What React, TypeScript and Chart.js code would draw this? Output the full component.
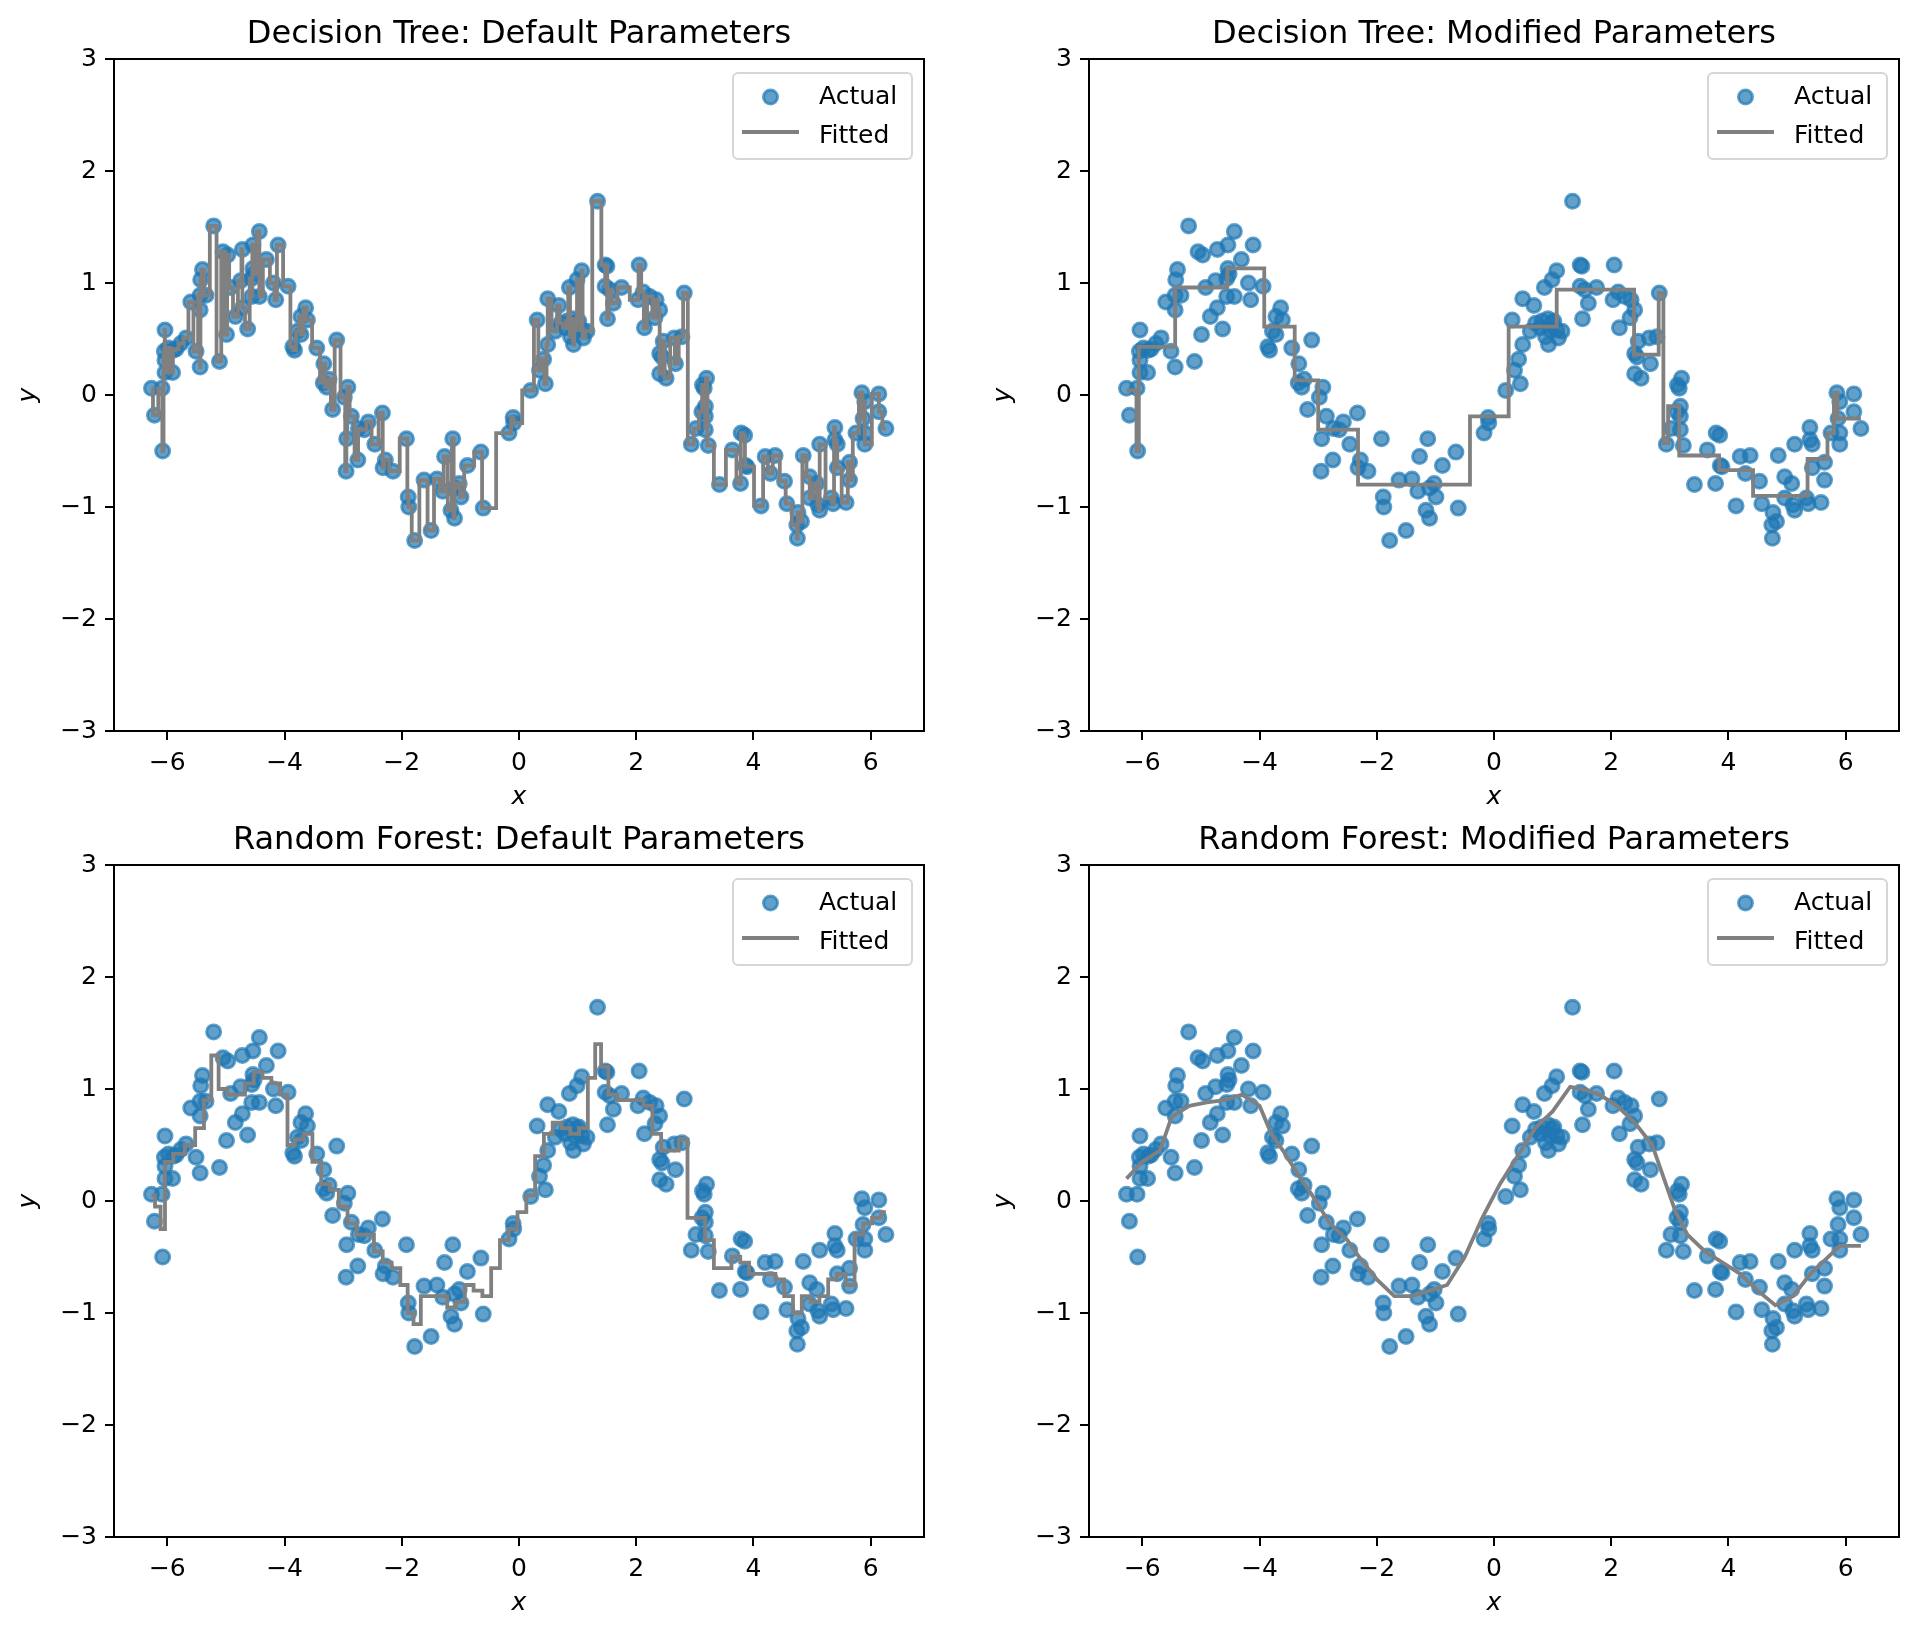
import React, { useEffect, useRef } from 'react';
import { Chart, registerables } from 'chart.js';

Chart.register(...registerables);

// ---------------- data ----------------
const titles = [
  'Decision Tree: Default Parameters',
  'Decision Tree: Modified Parameters',
  'Random Forest: Default Parameters',
  'Random Forest: Modified Parameters',
];

const xTicks = [-6, -4, -2, 0, 2, 4, 6];
const yTicks = [-3, -2, -1, 0, 1, 2, 3];

const actualX = [
  -6.27, -6.22, -6.09, -6.08, -6.05, -6.04, -6.04, -6.04, -5.98, -5.91, -5.9, -5.85, -5.77, -5.68, -5.6, -5.51,
  -5.44, -5.44, -5.44, -5.43, -5.4, -5.34, -5.21, -5.11, -5.05, -4.99, -4.97, -4.92, -4.84, -4.75, -4.72, -4.72,
  -4.63, -4.56, -4.56, -4.54, -4.54, -4.52, -4.43, -4.43, -4.31, -4.19, -4.15, -4.11, -3.94, -3.86, -3.83, -3.78,
  -3.72, -3.72, -3.64, -3.61, -3.45, -3.34, -3.33, -3.28, -3.24, -3.18, -3.11, -2.98, -2.95, -2.94, -2.92, -2.86,
  -2.75, -2.74, -2.64, -2.57, -2.46, -2.33, -2.32, -2.28, -2.15, -1.92, -1.89, -1.88, -1.78, -1.62, -1.5, -1.4,
  -1.3, -1.27, -1.16, -1.13, -1.1, -1.1, -1.02, -0.99, -0.88, -0.65, -0.61, -0.17, -0.1, -0.09, 0.2, 0.31,
  0.35, 0.42, 0.45, 0.49, 0.49, 0.62, 0.68, 0.71, 0.79, 0.82, 0.86, 0.88, 0.92, 0.93, 0.96, 0.99,
  0.99, 1.02, 1.07, 1.07, 1.1, 1.16, 1.34, 1.47, 1.47, 1.5, 1.51, 1.55, 1.61, 1.75, 2.03, 2.05,
  2.12, 2.14, 2.23, 2.32, 2.34, 2.4, 2.4, 2.4, 2.44, 2.46, 2.51, 2.65, 2.67, 2.78, 2.82, 2.94,
  3.02, 3.12, 3.13, 3.16, 3.18, 3.18, 3.18, 3.2, 3.23, 3.42, 3.64, 3.78, 3.79, 3.85, 3.86, 3.89,
  4.13, 4.2, 4.29, 4.37, 4.53, 4.57, 4.74, 4.75, 4.76, 4.82, 4.85, 4.96, 4.96, 5.08, 5.1, 5.13,
  5.13, 5.33, 5.36, 5.39, 5.39, 5.43, 5.43, 5.58, 5.64, 5.64, 5.75, 5.85, 5.87, 5.9, 5.9, 5.9,
  6.14, 6.14, 6.26,
];
const actualY = [
  0.06, -0.18, 0.06, -0.5, 0.39, 0.58, 0.31, 0.2, 0.42, 0.2, 0.4, 0.41, 0.46, 0.51, 0.83, 0.39,
  0.89, 0.76, 0.25, 1.03, 1.12, 0.89, 1.51, 0.3, 1.28, 0.54, 1.25, 0.96, 0.7, 1.02, 1.3, 0.78,
  0.59, 1.04, 0.88, 1.34, 1.13, 1.08, 1.46, 0.88, 1.21, 1.0, 0.85, 1.34, 0.97, 0.43, 0.4, 0.57,
  0.7, 0.54, 0.78, 0.67, 0.42, 0.11, 0.28, 0.07, 0.14, -0.13, 0.49, -0.02, -0.68, -0.39, 0.07, -0.19,
  -0.58, -0.3, -0.31, -0.24, -0.44, -0.16, -0.65, -0.58, -0.68, -0.39, -0.91, -1.0, -1.3, -0.76, -1.21, -0.75,
  -0.86, -0.55, -1.03, -0.39, -1.1, -0.83, -0.79, -0.91, -0.63, -0.51, -1.01, -0.34, -0.2, -0.25, 0.04, 0.67,
  0.22, 0.32, 0.1, 0.45, 0.86, 0.57, 0.8, 0.64, 0.6, 0.66, 0.96, 0.52, 0.68, 0.45, 0.58, 0.64,
  1.03, 0.66, 0.58, 1.11, 0.51, 0.57, 1.73, 1.16, 0.97, 1.15, 0.68, 0.94, 0.82, 0.96, 0.85, 1.16,
  0.92, 0.6, 0.88, 0.69, 0.85, 0.76, 0.37, 0.19, 0.34, 0.48, 0.15, 0.51, 0.28, 0.52, 0.91, -0.44,
  -0.3, -0.15, 0.09, 0.06, -0.1, -0.31, -0.19, 0.15, -0.45, -0.8, -0.49, -0.79, -0.34, -0.36, -0.63, -0.64,
  -0.99, -0.55, -0.7, -0.54, -0.77, -0.97, -1.16, -1.28, -1.05, -1.13, -0.54, -0.73, -0.92, -0.79, -0.98, -1.03,
  -0.44, -0.92, -0.97, -0.29, -0.4, -0.44, -0.65, -0.96, -0.6, -0.76, -0.34, 0.02, -0.21, -0.06, -0.34, -0.44,
  0.01, -0.15, -0.3,
];

// Decision tree (modified): start of each constant piece and its level (last entry = right end)
const dtModX = [-6.27, -6.1, -6.06, -5.44, -4.55, -3.92, -3.4, -3.0, -2.32, -0.41, 0.25, 1.07, 2.39, 2.81, 2.89, 2.97, 3.16, 3.84, 4.42, 5.35, 5.69, 5.8, 5.86, 6.26];
const dtModY = [0.04, -0.5, 0.43, 0.96, 1.13, 0.61, 0.13, -0.31, -0.8, -0.19, 0.61, 0.94, 0.36, 0.91, -0.43, -0.1, -0.54, -0.67, -0.9, -0.57, -0.34, 0.02, -0.21, -0.21];

// Random forest (default) fitted curve
const rfDefX = [-6.27, -6.15, -6.08, -6.0, -5.8, -5.6, -5.45, -5.3, -5.2, -5.05, -4.9, -4.75, -4.6, -4.45, -4.3, -4.15, -4.0, -3.9, -3.75, -3.6, -3.45, -3.3, -3.15, -3.0, -2.85, -2.7, -2.55, -2.4, -2.25, -2.1, -1.95, -1.85, -1.75, -1.6, -1.45, -1.3, -1.15, -1.0, -0.85, -0.7, -0.55, -0.4, -0.25, -0.1, 0.05, 0.2, 0.35, 0.5, 0.65, 0.8, 0.95, 1.1, 1.25, 1.35, 1.45, 1.6, 1.75, 1.9, 2.05, 2.2, 2.35, 2.5, 2.65, 2.8, 2.95, 3.1, 3.25, 3.4, 3.55, 3.7, 3.85, 4.0, 4.15, 4.3, 4.45, 4.6, 4.75, 4.9, 5.05, 5.2, 5.35, 5.5, 5.65, 5.8, 5.95, 6.1, 6.26];
const rfDefY = [0.05, -0.05, -0.25, 0.35, 0.42, 0.5, 0.65, 0.9, 1.3, 1.0, 0.95, 0.95, 1.05, 1.15, 1.1, 1.05, 0.95, 0.5, 0.55, 0.6, 0.35, 0.15, 0.1, -0.05, -0.2, -0.3, -0.3, -0.45, -0.55, -0.6, -0.75, -1.0, -1.1, -0.85, -0.85, -0.85, -0.95, -0.9, -0.75, -0.8, -0.85, -0.6, -0.35, -0.25, -0.1, 0.05, 0.4, 0.6, 0.7, 0.65, 0.6, 0.65, 1.1, 1.4, 1.2, 0.95, 0.9, 0.9, 0.9, 0.85, 0.6, 0.45, 0.45, 0.55, -0.15, -0.15, -0.35, -0.6, -0.6, -0.5, -0.55, -0.65, -0.65, -0.65, -0.7, -0.85, -1.0, -0.85, -0.9, -0.85, -0.7, -0.65, -0.75, -0.3, -0.2, -0.15, -0.1];

// Random forest (modified) fitted curve
const rfModX = [-6.27, -6.0, -5.7, -5.5, -5.2, -4.9, -4.6, -4.3, -4.0, -3.8, -3.6, -3.3, -3.1, -2.8, -2.5, -2.3, -2.0, -1.7, -1.4, -1.1, -0.8, -0.5, -0.2, 0.1, 0.4, 0.7, 1.0, 1.3, 1.5, 1.8, 2.1, 2.4, 2.7, 2.9, 3.1, 3.3, 3.6, 3.9, 4.2, 4.5, 4.8, 5.1, 5.4, 5.6, 5.9, 6.26];
const rfModY = [0.2, 0.35, 0.45, 0.75, 0.85, 0.88, 0.9, 0.95, 0.85, 0.6, 0.45, 0.2, 0.05, -0.2, -0.35, -0.5, -0.7, -0.85, -0.85, -0.8, -0.75, -0.5, -0.15, 0.15, 0.4, 0.65, 0.8, 1.02, 1.0, 0.95, 0.85, 0.7, 0.5, 0.2, -0.1, -0.3, -0.45, -0.55, -0.65, -0.8, -0.93, -0.85, -0.65, -0.55, -0.4, -0.4];

// ---------------- styling / layout ----------------
const FONT = '"DejaVu Sans", "Liberation Sans", sans-serif';
const PT_BLUE = 'rgba(31,119,180,0.7)';
const LINE_GRAY = '#808080';
const PW = 959;
const PH = 819;

const panels = [
  { cx: 0, cy: 0, L: 114, T: 59, R: 924, B: 731 },
  { cx: 959, cy: 0, L: 1089, T: 59, R: 1899, B: 731 },
  { cx: 0, cy: 819, L: 114, T: 865, R: 924, B: 1537 },
  { cx: 959, cy: 819, L: 1089, T: 865, R: 1899, B: 1537 },
];

const zip = (xs: number[], ys: number[]) => xs.map((x, i) => ({ x, y: ys[i] }));

const fittedFor = (i: number): { data: { x: number; y: number }[]; stepped: any } => {
  if (i === 0) return { data: zip(actualX, actualY), stepped: 'middle' };
  if (i === 1) return { data: zip(dtModX, dtModY), stepped: 'before' };
  if (i === 2) return { data: zip(rfDefX, rfDefY), stepped: 'middle' };
  return { data: zip(rfModX, rfModY), stepped: false };
};

const fmt = (v: any) => String(v).replace('-', '\u2212');

const decorPlugin = (title: string) => ({
  id: 'decor',
  afterDraw(chart: any) {
    const { ctx, chartArea: ca } = chart;
    ctx.save();
    // frame
    ctx.strokeStyle = '#000';
    ctx.lineWidth = 2;
    ctx.strokeRect(ca.left, ca.top, ca.right - ca.left, ca.bottom - ca.top);
    // title
    ctx.fillStyle = '#000';
    ctx.font = `32px ${FONT}`;
    ctx.textAlign = 'center';
    ctx.textBaseline = 'alphabetic';
    ctx.fillText(title, (ca.left + ca.right) / 2, ca.top - 16);
    // axis labels
    ctx.font = `italic 25px ${FONT}`;
    ctx.fillText('x', (ca.left + ca.right) / 2, ca.bottom + 73);
    ctx.save();
    ctx.translate(ca.left - 79, (ca.top + ca.bottom) / 2);
    ctx.rotate(-Math.PI / 2);
    ctx.fillText('y', 0, 0);
    ctx.restore();
    // legend
    const bw = 179;
    const bh = 86;
    const bx = ca.right - 12 - bw;
    const by = ca.top + 14;
    ctx.beginPath();
    if (ctx.roundRect) ctx.roundRect(bx, by, bw, bh, 5);
    else ctx.rect(bx, by, bw, bh);
    ctx.fillStyle = 'rgba(255,255,255,0.8)';
    ctx.fill();
    ctx.strokeStyle = 'rgba(204,204,204,0.8)';
    ctx.lineWidth = 2;
    ctx.stroke();
    ctx.beginPath();
    ctx.arc(bx + 37.5, by + 24, 7, 0, Math.PI * 2);
    ctx.fillStyle = PT_BLUE;
    ctx.fill();
    ctx.strokeStyle = PT_BLUE;
    ctx.lineWidth = 3;
    ctx.stroke();
    ctx.beginPath();
    ctx.moveTo(bx + 9, by + 59);
    ctx.lineTo(bx + 66, by + 59);
    ctx.strokeStyle = LINE_GRAY;
    ctx.lineWidth = 3.8;
    ctx.stroke();
    ctx.fillStyle = '#000';
    ctx.font = `25px ${FONT}`;
    ctx.textAlign = 'left';
    ctx.fillText('Actual', bx + 86, by + 31);
    ctx.fillText('Fitted', bx + 86, by + 70);
    ctx.restore();
  },
});

function Panel({ idx }: { idx: number }) {
  const ref = useRef<HTMLCanvasElement | null>(null);
  const p = panels[idx];
  useEffect(() => {
    if (!ref.current) return;
    const f = fittedFor(idx);
    const tickFont = { family: FONT, size: 25 };
    const chart = new Chart(ref.current, {
      type: 'scatter',
      data: {
        datasets: [
          {
            type: 'line',
            label: 'Fitted',
            data: f.data,
            borderColor: LINE_GRAY,
            backgroundColor: LINE_GRAY,
            borderWidth: 3.8,
            pointRadius: 0,
            pointHoverRadius: 0,
            stepped: f.stepped,
            fill: false,
            tension: 0,
            order: 0,
          } as any,
          {
            type: 'scatter',
            label: 'Actual',
            data: zip(actualX, actualY),
            backgroundColor: PT_BLUE,
            borderColor: PT_BLUE,
            borderWidth: 3,
            pointRadius: 7,
            pointHoverRadius: 7,
            order: 1,
          } as any,
        ],
      },
      options: {
        animation: false,
        responsive: false,
        devicePixelRatio: 1,
        events: [],
        layout: { padding: { left: 0, top: p.T - p.cy, right: p.cx + PW - p.R, bottom: 0 } },
        plugins: { legend: { display: false }, tooltip: { enabled: false }, title: { display: false } },
        scales: {
          x: {
            type: 'linear',
            min: -6.91,
            max: 6.91,
            afterFit: (s: any) => {
              s.height = p.cy + PH - p.B;
            },
            afterBuildTicks: (s: any) => {
              s.ticks = xTicks.map((v) => ({ value: v }));
            },
            ticks: { callback: fmt, font: tickFont, color: '#000', padding: 8, maxRotation: 0, autoSkip: false, includeBounds: false },
            grid: { drawOnChartArea: false, drawTicks: true, tickLength: 9, color: '#000', lineWidth: 2 },
            border: { display: false },
          },
          y: {
            type: 'linear',
            min: -3,
            max: 3,
            afterFit: (s: any) => {
              s.width = p.L - p.cx;
            },
            afterBuildTicks: (s: any) => {
              s.ticks = yTicks.map((v) => ({ value: v }));
            },
            ticks: { callback: fmt, font: tickFont, color: '#000', padding: 8, autoSkip: false, includeBounds: false },
            grid: { drawOnChartArea: false, drawTicks: true, tickLength: 9, color: '#000', lineWidth: 2 },
            border: { display: false },
          },
        },
      } as any,
      plugins: [decorPlugin(titles[idx])],
    });
    return () => chart.destroy();
  }, [idx]);
  return (
    <canvas
      ref={ref}
      width={PW}
      height={PH}
      style={{ position: 'absolute', left: p.cx, top: p.cy, width: PW, height: PH }}
    />
  );
}

export default function App() {
  return (
    <div style={{ position: 'absolute', left: 0, top: 0, width: 1918, height: 1638, background: '#fff' }}>
      {panels.map((_, i) => (
        <Panel key={i} idx={i} />
      ))}
    </div>
  );
}
